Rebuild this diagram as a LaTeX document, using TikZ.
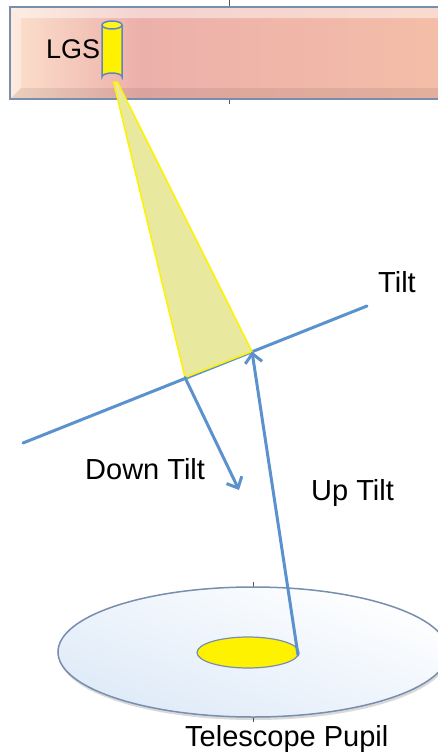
\documentclass[tikz,border=0pt]{standalone}
\usepackage{fontspec}
\setmainfont{Liberation Sans}
\usetikzlibrary{arrows.meta,shapes.geometric}
\definecolor{linkblue}{RGB}{91,146,206}
\definecolor{barborder}{RGB}{120,142,175}
\definecolor{beamfill}{RGB}{232,232,158}
\definecolor{cylborder}{RGB}{95,135,190}
\definecolor{peachL}{RGB}{252,224,204}
\definecolor{pinkM}{RGB}{236,176,170}
\definecolor{peachR}{RGB}{244,190,168}
\definecolor{pupilblue}{RGB}{222,234,248}
\definecolor{tickgray}{RGB}{90,90,90}
\tikzset{
  lbl/.style={font=\fontsize{29}{34}\selectfont, inner sep=0pt, anchor=base west},
  tiltline/.style={draw=linkblue, line width=3pt, line cap=round},
  tiltarrow/.style={draw=linkblue, line width=3pt, line cap=round, -{Straight Barb[length=9pt,width=17pt,line width=3pt]}},
  tick/.style={draw=tickgray, line width=0.5pt},
}
\begin{document}
\begin{tikzpicture}[x=1pt,y=-1pt]
\useasboundingbox (0,0) rectangle (438,753);
% guide ticks
\draw[tick] (229,0) -- (229,7);
\draw[tick] (229,99) -- (229,104);
\draw[tick] (253,582) -- (253,587);
\draw[tick] (253,717) -- (253,722);
% top bar
\shade[left color=peachL, right color=pinkM] (10,7) rectangle (140,99);
\shade[left color=pinkM, right color=peachR] (139.5,7) rectangle (448,99);
\fill[white, opacity=0.45] (10,7) -- (448,7) -- (438,18) -- (21,18) -- cycle;
\fill[white, opacity=0.35] (10,7) -- (21,18) -- (21,88) -- (10,99) -- cycle;
\fill[black, opacity=0.07] (10,99) -- (448,99) -- (438,88) -- (21,88) -- cycle;
\draw[barborder, line width=2pt] (10,7) rectangle (448,99);
\node[lbl, font=\fontsize{27}{32}\selectfont] (lgs) at (46,58) {LGS};
% coordinates
\coordinate (tiltA) at (23,443);
\coordinate (tiltB) at (367,306);
\coordinate (beamL) at (185,377.5);
\coordinate (beamR) at (252,351.5);
\coordinate (apexL) at (113.5,82);
\coordinate (apexR) at (117.5,82);
\coordinate (downEnd) at (239,490);
\coordinate (upStart) at (298,655);
% tilt plane
\draw[tiltline] (tiltA) -- (tiltB);
% beam
\draw[yellow, line width=1.5pt, fill=beamfill, line join=round] (apexL) -- (beamL) -- (beamR) -- (apexR) -- cycle;
% cylinder (LGS)
\draw[cylborder, line width=1.5pt, fill=yellow] (102,25) -- (102,77) arc[start angle=180, end angle=360, x radius=10, y radius=4] -- (122,25);
\draw[cylborder, line width=1.5pt, fill=yellow!85!white] (112,25) ellipse[x radius=10, y radius=4];
% pupil
\fill[black, opacity=0.15] (254,655) ellipse[x radius=195, y radius=65];
\node[ellipse, draw=barborder, line width=1.5pt, minimum width=390pt, minimum height=130pt, inner sep=0pt,
      top color=white, bottom color=pupilblue, shading angle=-20] (pupil) at (253,652) {};
\node[ellipse, draw=barborder, line width=1.2pt, fill=yellow, minimum width=102pt, minimum height=31pt, inner sep=0pt] (spot) at (248,652.5) {};
% arrows
\draw[tiltarrow] (beamL) -- (downEnd);
\draw[tiltarrow] (upStart) -- (beamR);
% labels
\node[lbl] (tilt) at (378,292) {Tilt};
\node[lbl] (down) at (85,479) {Down Tilt};
\node[lbl] (up) at (311,500) {Up Tilt};
\node[lbl] (pupl) at (185,746) {Telescope Pupil};
\end{tikzpicture}
\end{document}
